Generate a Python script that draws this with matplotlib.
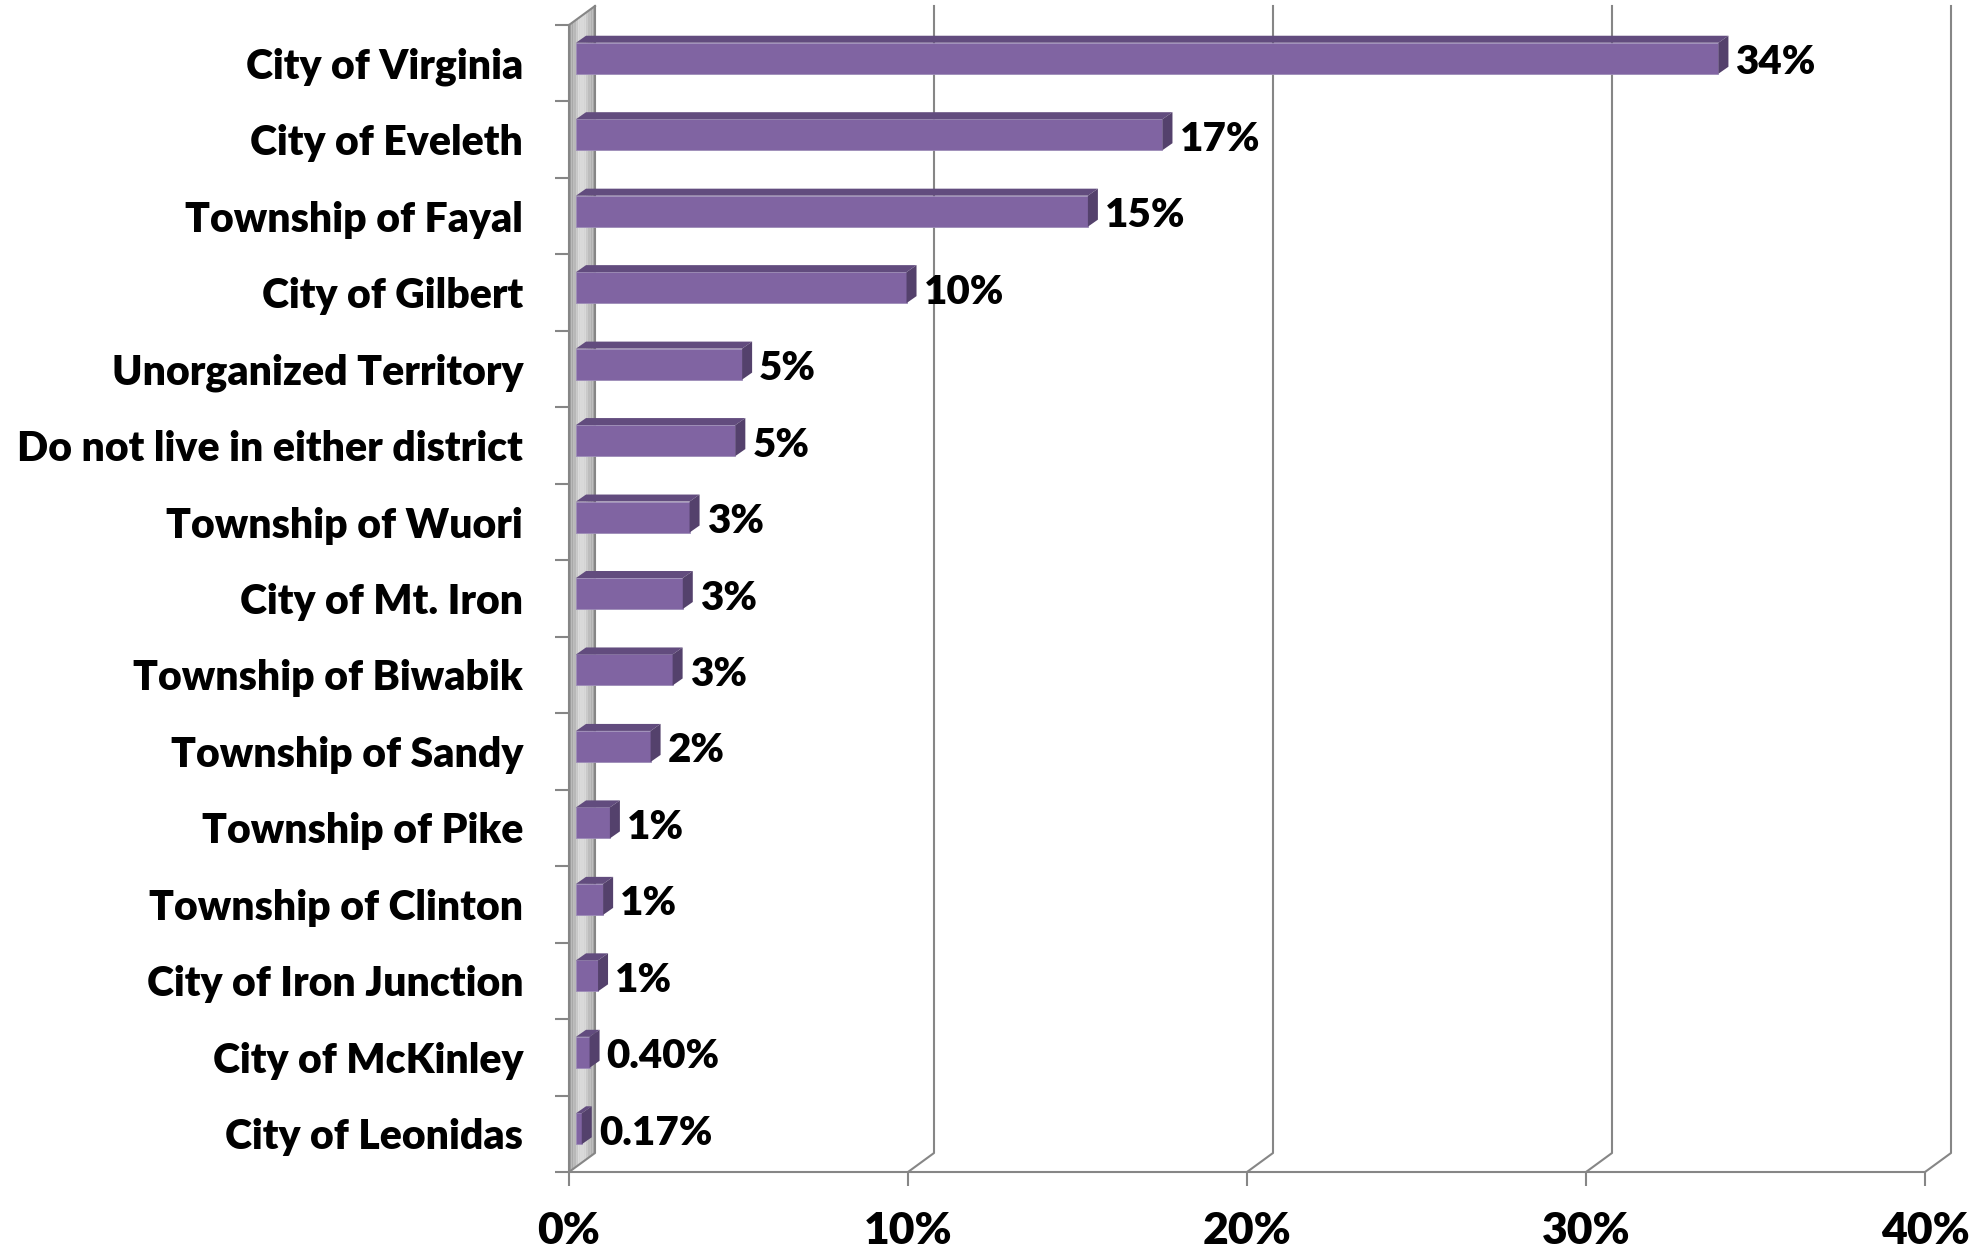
import numpy as np
import matplotlib
matplotlib.use('Agg')
import matplotlib.pyplot as plt
from matplotlib.transforms import offset_copy

categories = ['City of Virginia', 'City of Eveleth', 'Township of Fayal', 'City of Gilbert',
              'Unorganized Territory', 'Do not live in either district', 'Township of Wuori',
              'City of Mt. Iron', 'Township of Biwabik', 'Township of Sandy', 'Township of Pike',
              'Township of Clinton', 'City of Iron Junction', 'City of McKinley', 'City of Leonidas']
values = [33.7, 17.3, 15.1, 9.75, 4.9, 4.7, 3.35, 3.15, 2.85, 2.2, 1.0, 0.8, 0.65, 0.40, 0.17]
value_labels = ['34%', '17%', '15%', '10%', '5%', '5%', '3%', '3%', '3%', '2%',
                '1%', '1%', '1%', '0.40%', '0.17%']
xticks = [0, 10, 20, 30, 40]
xtick_labels = ['0%', '10%', '20%', '30%', '40%']

plt.rcParams['font.family'] = ['Lato', 'DejaVu Sans']
wt = 'heavy'

W, H = 1988, 1249
fig = plt.figure(figsize=(W / 100, H / 100), dpi=100)
# front plane of the 3d box
ax = fig.add_axes([569 / W, 1 - 1172 / H, 1356 / W, 1147 / H])
n = len(categories)
ax.set_xlim(0, 40)
ax.set_ylim(n - 0.5, -0.5)

grey = '#868686'
front = '#8064A2'
topc = '#624C7E'
sidec = '#54416C'

# pixel sizes of one data unit
p0 = ax.transData.transform((0, 0))
p1 = ax.transData.transform((1, 1))
sx = p1[0] - p0[0]
sy = p0[1] - p1[1]

def d(px, py):
    # pixel offset (right, up) -> data offset
    return px / sx, -py / sy

ddx, ddy = d(26, 19)

# left wall, shaded strips
shade = [0.62, 0.66, 0.72, 0.78, 0.83, 0.85, 0.83, 0.79, 0.74, 0.69, 0.66]
ns = len(shade)
for k, g in enumerate(shade):
    t0, t1 = k / ns, (k + 1) / ns
    xs = [t0 * ddx, t1 * ddx, t1 * ddx, t0 * ddx]
    ys = [-0.5 + t0 * ddy, -0.5 + t1 * ddy, n - 0.5 + t1 * ddy, n - 0.5 + t0 * ddy]
    ax.fill(xs, ys, color=str(g), lw=0, zorder=1, clip_on=False)
ax.plot([0, ddx], [-0.5, -0.5 + ddy], color=grey, lw=1.5, clip_on=False, zorder=2)

# gridlines on back wall
for xt in xticks:
    ax.plot([xt + ddx, xt + ddx, xt], [-0.5 + ddy, n - 0.5 + ddy, n - 0.5],
            color=grey, lw=1.5, clip_on=False, zorder=2)

# bars
bx, by = d(7, 5)
hb = 31 / sy
tx, ty = d(10, 7)
ypos = np.arange(n)
ax.barh(ypos + by, values, height=hb, left=bx, color=front, zorder=3,
        edgecolor='#9d8cb8', linewidth=0.6)
for i, v in enumerate(values):
    yt = i + by - hb / 2
    yb = i + by + hb / 2
    xe = bx + v
    ax.fill([bx, xe, xe + tx, bx + tx], [yt, yt, yt + ty, yt + ty],
            color=topc, lw=0, zorder=3, clip_on=False)
    ax.fill([xe, xe + tx, xe + tx, xe], [yt, yt + ty, yb + ty, yb],
            color=sidec, lw=0, zorder=3, clip_on=False)
    ax.text(v, i, value_labels[i], fontsize=29, fontweight=wt, ha='left', va='baseline',
            transform=offset_copy(ax.transData, fig=fig, x=7 + 17, y=-11, units='dots'),
            zorder=4)

# axes
for s in ['top', 'right']:
    ax.spines[s].set_visible(False)
for s in ['left', 'bottom']:
    ax.spines[s].set_color(grey)
    ax.spines[s].set_linewidth(1.5)
    ax.spines[s].set_zorder(2)

ax.set_xticks(xticks)
ax.set_xticklabels(xtick_labels, fontsize=32, fontweight=wt)
ax.tick_params(axis='x', length=10, width=1.5, color=grey, pad=18)

ax.set_yticks(ypos)
ax.set_yticklabels(categories, fontsize=29.5, fontweight=wt)
ax.set_yticks(np.arange(-0.5, n, 1), minor=True)
ax.tick_params(axis='y', which='major', length=0, pad=33)
ax.tick_params(axis='y', which='minor', length=10, width=1.5, color=grey)
ax.set_facecolor('none')

fig.savefig('out.png', dpi=100)
